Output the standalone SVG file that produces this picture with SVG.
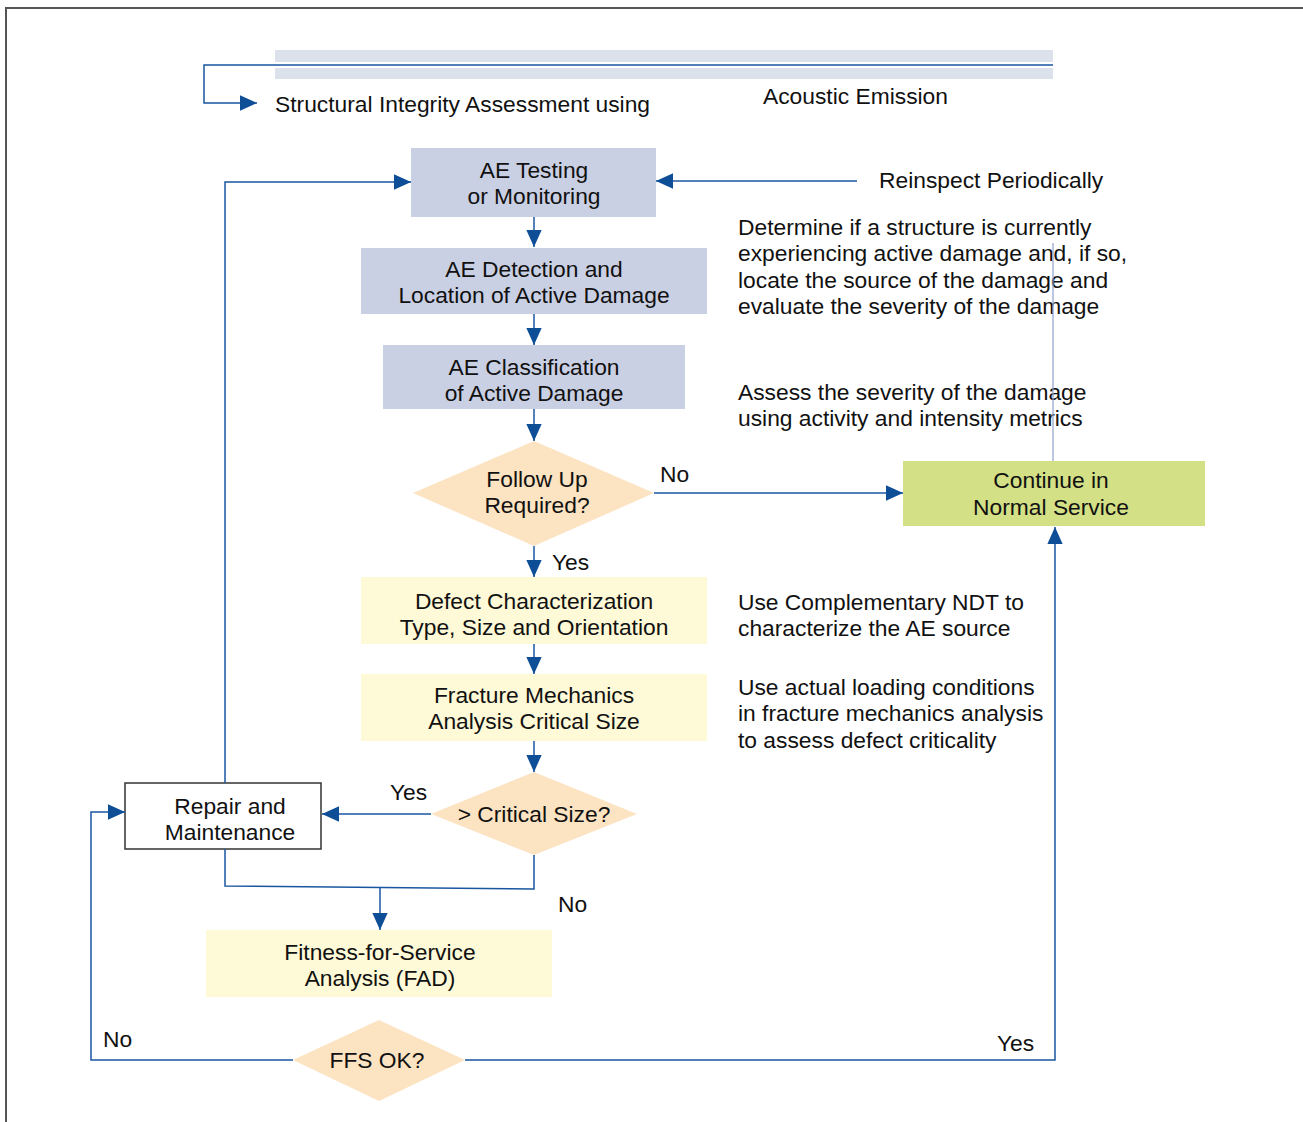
<svg xmlns="http://www.w3.org/2000/svg" width="1303" height="1122" viewBox="0 0 1303 1122">
<defs>
<marker id="ah" viewBox="0 0 10 10" refX="10" refY="5" markerWidth="17" markerHeight="17" markerUnits="userSpaceOnUse" orient="auto">
<path d="M0,0.5 L10,5 L0,9.5 Z" fill="#0d4e97"/>
</marker>
<style>
text{font-family:"Liberation Sans",Arial,sans-serif;font-size:22.8px;fill:#111}
.c{text-anchor:middle}
.con{fill:none;stroke:#1a56a0;stroke-width:1.5}
.blue{fill:#cad0e4}
.yel{fill:#fef9d6}
.dia{fill:#fce3c2}
</style>
</defs>
<rect width="1303" height="1122" fill="#fff"/>
<path d="M6,1122 V8 H1303" fill="none" stroke="#555" stroke-width="2"/>
<g id="banner">
<rect x="275" y="50" width="778" height="29" fill="#dce2eb"/>
<line x1="275" y1="65" x2="1053" y2="65" stroke="#fff" stroke-width="6"/>
<text x="275" y="112">Structural Integrity Assessment using</text>
<text x="763" y="104">Acoustic Emission</text>
</g>
<g id="n-testing"><rect class="blue" x="411" y="148" width="245" height="69"/><text class="c" x="534" y="178">AE Testing</text><text class="c" x="534" y="204">or Monitoring</text></g>
<g id="n-detection"><rect class="blue" x="361" y="248" width="346" height="66"/><text class="c" x="534" y="277">AE Detection and</text><text class="c" x="534" y="303">Location of Active Damage</text></g>
<g id="n-class"><rect class="blue" x="383" y="345" width="302" height="64"/><text class="c" x="534" y="375">AE Classification</text><text class="c" x="534" y="401">of Active Damage</text></g>
<g id="n-follow"><polygon class="dia" points="534,441 654,493 534,546 413,493"/><text class="c" x="537" y="487">Follow Up</text><text class="c" x="537" y="513">Required?</text></g>
<g id="n-continue"><rect x="903" y="461" width="302" height="65" fill="#d3e085"/><text class="c" x="1051" y="488">Continue in</text><text class="c" x="1051" y="515">Normal Service</text></g>
<g id="n-defect"><rect class="yel" x="361" y="577" width="346" height="67"/><text class="c" x="534" y="609">Defect Characterization</text><text class="c" x="534" y="635">Type, Size and Orientation</text></g>
<g id="n-fracture"><rect class="yel" x="361" y="674" width="346" height="67"/><text class="c" x="534" y="703">Fracture Mechanics</text><text class="c" x="534" y="729">Analysis Critical Size</text></g>
<g id="n-critical"><polygon class="dia" points="534,772 637,814 534,855 431,814"/><text class="c" x="534" y="822">&gt; Critical Size?</text></g>
<g id="n-repair"><rect x="125" y="783" width="196" height="66" fill="#fff" stroke="#333" stroke-width="1.5"/><text class="c" x="230" y="814">Repair and</text><text class="c" x="230" y="840">Maintenance</text></g>
<g id="n-ffs"><rect class="yel" x="206" y="930" width="346" height="67"/><text class="c" x="380" y="960">Fitness-for-Service</text><text class="c" x="380" y="986">Analysis (FAD)</text></g>
<g id="n-ffsok"><polygon class="dia" points="379,1020 465,1060 379,1101 293,1060"/><text class="c" x="377" y="1068">FFS OK?</text></g>
<g id="notes">
<text x="879" y="188">Reinspect Periodically</text>
<text x="738" y="235">Determine if a structure is currently</text>
<text x="738" y="261">experiencing active damage and, if so,</text>
<text x="738" y="288">locate the source of the damage and</text>
<text x="738" y="314">evaluate the severity of the damage</text>
<text x="738" y="400">Assess the severity of the damage</text>
<text x="738" y="426">using activity and intensity metrics</text>
<text x="738" y="610">Use Complementary NDT to</text>
<text x="738" y="636">characterize the AE source</text>
<text x="738" y="695">Use actual loading conditions</text>
<text x="738" y="721">in fracture mechanics analysis</text>
<text x="738" y="748">to assess defect criticality</text>
</g>
<g id="connectors">
<path class="con" d="M1053,65 H204 V103 H257" marker-end="url(#ah)" stroke="#4a78b0"/>
<path class="con" d="M534,217 V247" marker-end="url(#ah)"/>
<path class="con" d="M534,314 V345" marker-end="url(#ah)"/>
<path class="con" d="M534,409 V441" marker-end="url(#ah)"/>
<path class="con" d="M654,493 H903" marker-end="url(#ah)"/>
<path class="con" d="M534,546 V577" marker-end="url(#ah)"/>
<path class="con" d="M534,644 V674" marker-end="url(#ah)"/>
<path class="con" d="M534,741 V772" marker-end="url(#ah)"/>
<path class="con" d="M431,814 H322" marker-end="url(#ah)"/>
<path class="con" d="M534,855 V889 L225,886 V849"/>
<path class="con" d="M380,888 V930" marker-end="url(#ah)"/>
<path class="con" d="M225,783 V182 H411" marker-end="url(#ah)"/>
<path class="con" d="M857,181 H656" marker-end="url(#ah)"/>
<line x1="1053" y1="243" x2="1053" y2="461" stroke="#8fa0cc" stroke-width="1.2"/>
<path class="con" d="M293,1060 H91 V812 H125" marker-end="url(#ah)"/>
<path class="con" d="M465,1060 H1055 V527" marker-end="url(#ah)"/>
<text x="660" y="482">No</text>
<text x="552" y="570">Yes</text>
<text x="390" y="800">Yes</text>
<text x="558" y="912">No</text>
<text x="103" y="1047">No</text>
<text x="997" y="1051">Yes</text>
</g>
</svg>
